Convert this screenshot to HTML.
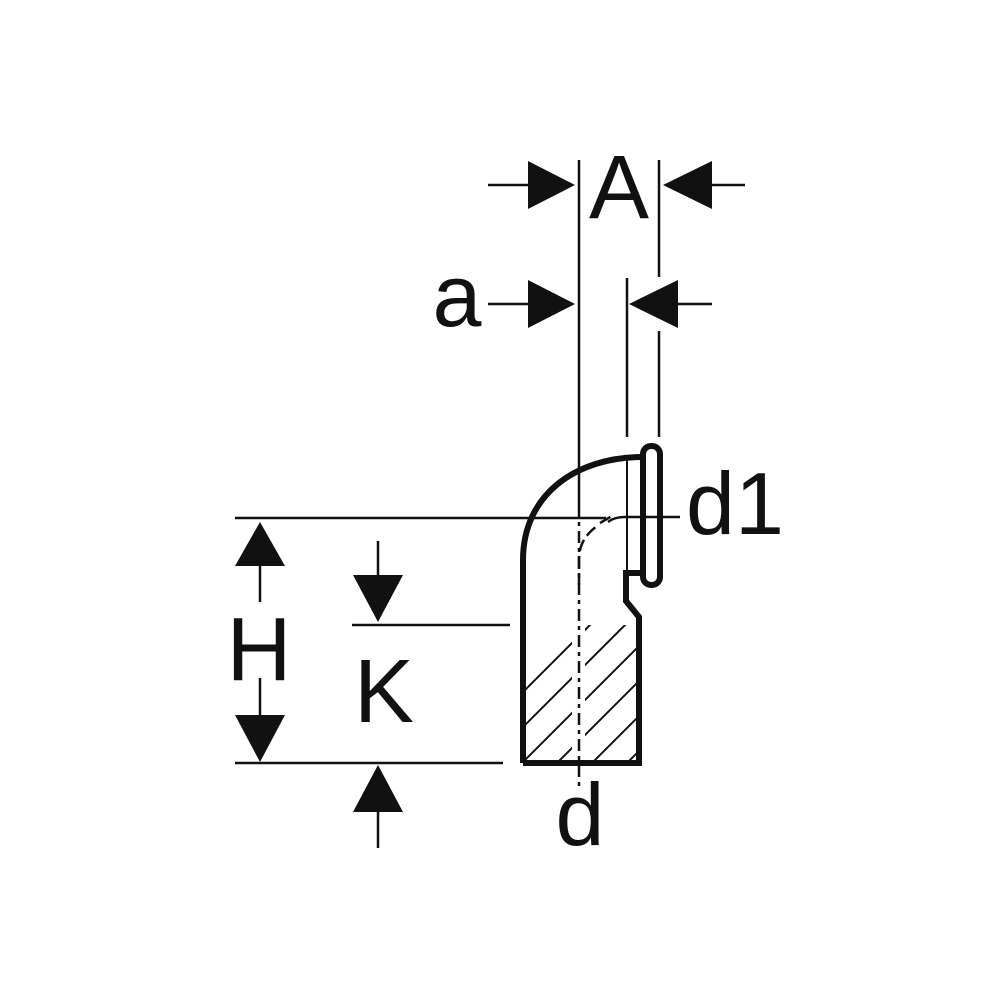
<!DOCTYPE html>
<html><head><style>html,body{margin:0;padding:0;background:#fff}svg{display:block}</style></head>
<body>
<svg width="1000" height="1000" viewBox="0 0 1000 1000" xmlns="http://www.w3.org/2000/svg">
<defs>
<clipPath id="hc"><rect x="525" y="625" width="112" height="136"/></clipPath>
</defs>
<g stroke="#111" fill="none">
<g clip-path="url(#hc)" stroke-width="2">
<path d="M420,830 L660,590 M455,830 L695,590 M490,830 L730,590 M525,830 L765,590 M560,830 L800,590 M595,830 L835,590 M630,830 L870,590 M385,830 L625,590"/>
</g>
<rect x="572" y="620" width="13" height="145" fill="#fff" stroke="none"/>
<line x1="579" y1="160" x2="579" y2="505" stroke-width="2.5"/>
<line x1="579" y1="505" x2="579" y2="790" stroke-width="2.5" stroke-dasharray="12,5,4,5"/>
<line x1="659" y1="160" x2="659" y2="277" stroke-width="2.5"/>
<line x1="659" y1="331" x2="659" y2="437" stroke-width="2.5"/>
<line x1="627" y1="278" x2="627" y2="437" stroke-width="2.5"/>
<line x1="235" y1="518" x2="606" y2="518" stroke-width="2.5"/>
<path d="M608,522 Q614,517 625,517 L680,517" stroke-width="2.5"/>
<line x1="352" y1="625" x2="510" y2="625" stroke-width="2.5"/>
<line x1="235" y1="763" x2="503" y2="763" stroke-width="2.5"/>
<path d="M523,763 L523,560 C523,495 575,457 643,457" stroke-width="6"/>
<path d="M523,763 L639,763 L639,617 L626,601 L626,573 L643,573" stroke-width="6"/>
<rect x="643" y="446" width="17" height="139" rx="8" stroke-width="6"/>
<line x1="627" y1="458" x2="627" y2="573" stroke-width="2"/>
<path d="M579,585 L579,560 C579,545 585,535 597,526 M600,523 L612,516" stroke-width="2.5" stroke-dasharray="12,5"/>
<g stroke-width="2.5">
<line x1="488" y1="185" x2="530" y2="185"/>
<line x1="710" y1="185" x2="745" y2="185"/>
<line x1="488" y1="304" x2="530" y2="304"/>
<line x1="676" y1="304" x2="712" y2="304"/>
<line x1="260" y1="560" x2="260" y2="602"/>
<line x1="260" y1="678" x2="260" y2="718"/>
<line x1="378" y1="541" x2="378" y2="577"/>
<line x1="378" y1="810" x2="378" y2="848"/>
</g>
</g>
<g fill="#111">
<polygon points="528,161 575,185 528,209"/>
<polygon points="712,161 663,185 712,209"/>
<polygon points="528,280 575,304 528,328"/>
<polygon points="678,280 629,304 678,328"/>
<polygon points="260,522 285,566 235,566"/>
<polygon points="260,762 285,715 235,715"/>
<polygon points="378,622 403,575 353,575"/>
<polygon points="378,765 403,812 353,812"/>
</g>
<g font-family="Liberation Sans, sans-serif" fill="#111">
<text x="619" y="218" font-size="90" text-anchor="middle">A</text>
<text x="457" y="326" font-size="88" text-anchor="middle">a</text>
<text x="686" y="534" font-size="88">d1</text>
<text x="259" y="680" font-size="90" text-anchor="middle">H</text>
<text x="384" y="722" font-size="90" text-anchor="middle">K</text>
<text x="580" y="845" font-size="88" text-anchor="middle">d</text>
</g>
</svg>
</body></html>
